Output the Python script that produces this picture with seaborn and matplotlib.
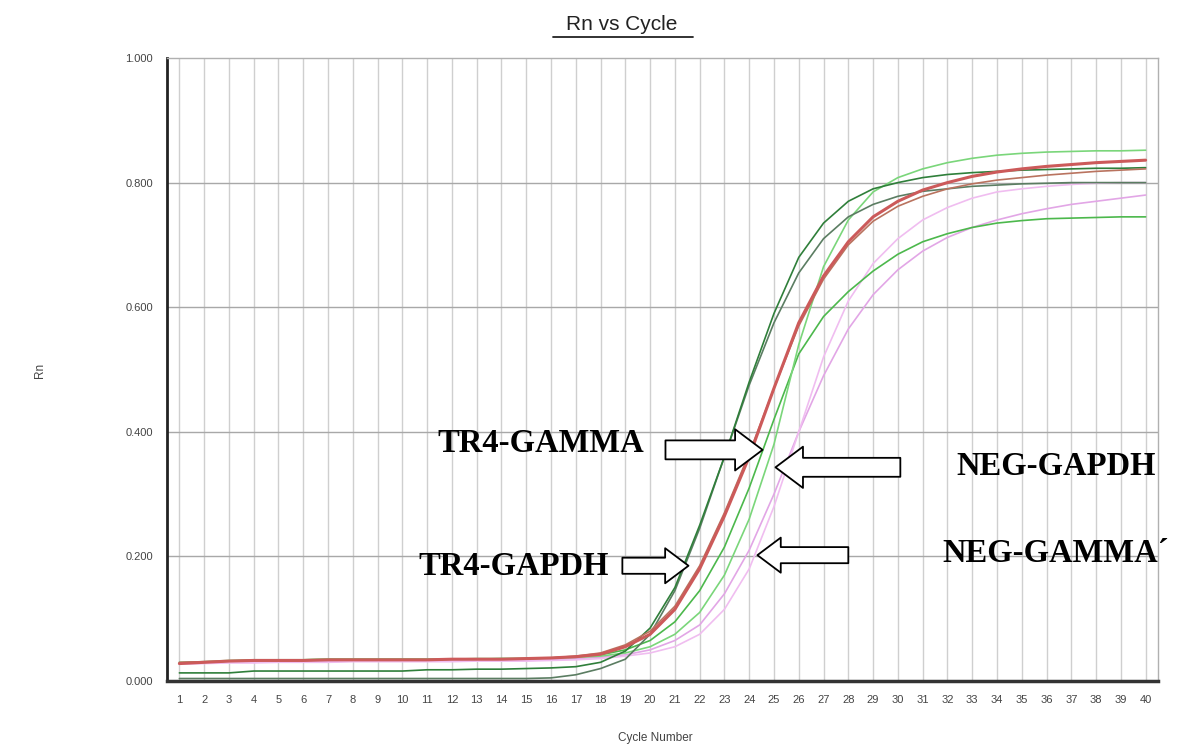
import numpy as np
import pandas as pd
import matplotlib
matplotlib.use("Agg")
import matplotlib.pyplot as plt
from matplotlib.lines import Line2D
import seaborn as sns

# amplification curves, Rn per cycle 1..40
cycles = list(range(1, 41))

pink_a = [0.028, 0.029, 0.030, 0.030, 0.031, 0.031, 0.031, 0.032, 0.032, 0.032,
          0.032, 0.032, 0.033, 0.033, 0.033, 0.034, 0.036, 0.038, 0.042, 0.050,
          0.065, 0.090, 0.140, 0.210, 0.300, 0.400, 0.490, 0.565, 0.620, 0.660,
          0.690, 0.712, 0.728, 0.740, 0.750, 0.758, 0.765, 0.770, 0.775, 0.780]
pink_b = [0.027, 0.028, 0.029, 0.029, 0.030, 0.030, 0.030, 0.031, 0.031, 0.031,
          0.031, 0.031, 0.032, 0.032, 0.032, 0.033, 0.034, 0.036, 0.040, 0.045,
          0.055, 0.075, 0.115, 0.180, 0.280, 0.400, 0.520, 0.610, 0.670, 0.710,
          0.740, 0.760, 0.775, 0.785, 0.790, 0.794, 0.797, 0.799, 0.800, 0.800]
green_top = [0.030, 0.031, 0.033, 0.034, 0.034, 0.034, 0.035, 0.035, 0.035, 0.035,
             0.035, 0.035, 0.036, 0.036, 0.036, 0.037, 0.038, 0.040, 0.045, 0.055,
             0.075, 0.110, 0.170, 0.260, 0.380, 0.540, 0.665, 0.740, 0.785, 0.808,
             0.822, 0.832, 0.839, 0.844, 0.847, 0.849, 0.850, 0.851, 0.851, 0.852]
green_low = [0.029, 0.030, 0.032, 0.033, 0.034, 0.034, 0.035, 0.035, 0.035, 0.035,
             0.035, 0.035, 0.035, 0.036, 0.036, 0.037, 0.039, 0.042, 0.050, 0.065,
             0.095, 0.145, 0.215, 0.310, 0.420, 0.525, 0.585, 0.625, 0.658, 0.685,
             0.705, 0.718, 0.728, 0.735, 0.739, 0.742, 0.743, 0.744, 0.745, 0.745]
dark_a = [0.013, 0.013, 0.013, 0.016, 0.016, 0.016, 0.016, 0.016, 0.016, 0.016,
          0.018, 0.018, 0.019, 0.019, 0.020, 0.021, 0.023, 0.030, 0.048, 0.085,
          0.150, 0.250, 0.360, 0.480, 0.590, 0.680, 0.735, 0.770, 0.790, 0.800,
          0.808, 0.813, 0.816, 0.818, 0.820, 0.821, 0.822, 0.823, 0.823, 0.824]
dark_b = [0.004, 0.004, 0.004, 0.004, 0.004, 0.004, 0.004, 0.004, 0.004, 0.004,
          0.004, 0.004, 0.004, 0.004, 0.004, 0.005, 0.010, 0.020, 0.035, 0.075,
          0.145, 0.245, 0.360, 0.475, 0.575, 0.655, 0.710, 0.745, 0.765, 0.778,
          0.786, 0.790, 0.794, 0.796, 0.798, 0.799, 0.800, 0.800, 0.800, 0.800]
red_b = [0.030, 0.031, 0.032, 0.033, 0.033, 0.033, 0.034, 0.034, 0.034, 0.034,
         0.034, 0.035, 0.035, 0.035, 0.036, 0.037, 0.040, 0.045, 0.058, 0.080,
         0.120, 0.185, 0.270, 0.365, 0.470, 0.570, 0.645, 0.700, 0.738, 0.762,
         0.778, 0.790, 0.798, 0.804, 0.808, 0.812, 0.815, 0.818, 0.820, 0.822]
red_a = [0.028, 0.030, 0.032, 0.033, 0.033, 0.033, 0.034, 0.034, 0.034, 0.034,
         0.034, 0.035, 0.035, 0.035, 0.036, 0.037, 0.039, 0.043, 0.055, 0.075,
         0.115, 0.180, 0.265, 0.360, 0.470, 0.575, 0.650, 0.705, 0.745, 0.770,
         0.788, 0.800, 0.810, 0.817, 0.822, 0.826, 0.829, 0.832, 0.834, 0.836]

y_ticks = [0.0, 0.2, 0.4, 0.6, 0.8, 1.0]
y_tick_labels = ["0.000", "0.200", "0.400", "0.600", "0.800", "1.000"]

curves = [
    ("pink_a", pink_a, "#e2a6e6", 1.2),
    ("pink_b", pink_b, "#f0bdf0", 1.2),
    ("green_low", green_low, "#4cb84c", 1.2),
    ("green_top", green_top, "#7ad67a", 1.2),
    ("dark_b", dark_b, "#5b7d62", 1.2),
    ("dark_a", dark_a, "#2f7f3a", 1.2),
    ("red_b", red_b, "#b9735f", 1.2),
    ("red_a", red_a, "#cc5a5a", 2.2),
]

sns.set_style("white")
plt.rcParams["font.family"] = ["Liberation Sans", "DejaVu Sans"]

fig = plt.figure(figsize=(11.96, 7.49), dpi=100)
ax = fig.add_axes([167 / 1196, 1 - 681 / 749, (1158 - 167) / 1196, (681 - 58) / 749])

for name, vals, col, lw in curves:
    sns.lineplot(x=cycles, y=vals, color=col, linewidth=lw, ax=ax)

ax.set_xlim(0.5, 40.5)
ax.set_ylim(0, 1.0)
ax.set_xticks(cycles)
ax.set_xticklabels([str(c) for c in cycles], fontsize=8, color="#444444")
ax.set_yticks(y_ticks)
ax.set_yticklabels(y_tick_labels, fontsize=8, color="#444444")
ax.tick_params(length=0, pad=10)
ax.tick_params(axis="x", pad=10)

for c in cycles:
    ax.axvline(c, color="#cfcfcf", lw=1.0, zorder=0)
for v in y_ticks[1:-1]:
    ax.axhline(v, color="#a8a8a8", lw=1.0, zorder=0)

for side in ["top", "right"]:
    ax.spines[side].set_color("#b0b0b0")
    ax.spines[side].set_linewidth(1.0)
ax.spines["left"].set_color("#222222")
ax.spines["left"].set_linewidth(2.0)
ax.spines["bottom"].set_color("#333333")
ax.spines["bottom"].set_linewidth(2.5)

ax.set_xlabel("")
ax.set_ylabel("")
fig.text(655 / 1196, 1 - 738 / 749, "Cycle Number", fontsize=8.5, color="#444444",
         ha="center", va="center")
fig.text(40 / 1196, 1 - 370 / 749, "Rn", fontsize=8.5, color="#444444",
         ha="center", va="center", rotation=90)

# underlined title
fig.text(622 / 1196, 1 - 24 / 749, "Rn vs Cycle", fontsize=15, color="#222222",
         ha="center", va="center")
fig.add_artist(Line2D([553 / 1196, 693 / 1196], [1 - 37 / 749, 1 - 37 / 749],
                      color="#222222", lw=1.3))

# hand-drawn labels and block arrows
serif = ["Liberation Serif", "DejaVu Serif"]
labels = [
    ("TR4-GAMMA", 11.42, 0.382),
    ("TR4-GAPDH", 10.65, 0.183),
    ("NEG-GAPDH", 32.35, 0.345),
    ("NEG-GAMMA\u00b4", 31.8, 0.205),
]
for txt, lx, ly in labels:
    ax.text(lx, ly, txt, fontsize=23.5, family=serif, weight="bold", color="black",
            ha="left", va="center", zorder=6)

arrows = [
    ((20.62, 0.371), (24.54, 0.371), 1.0),
    ((18.88, 0.185), (21.55, 0.185), 0.85),
    ((30.1, 0.343), (25.06, 0.343), 1.0),
    ((28.0, 0.202), (24.33, 0.202), 0.85),
]
for tail, tip, s in arrows:
    ax.annotate("", xy=tip, xytext=tail, zorder=7,
                arrowprops=dict(arrowstyle="simple,head_length=0.9,head_width=1.35,tail_width=0.62",
                                mutation_scale=22 * s, fc="white", ec="black", lw=1.3,
                                shrinkA=0, shrinkB=0))

fig.savefig("out.png", dpi=100)
